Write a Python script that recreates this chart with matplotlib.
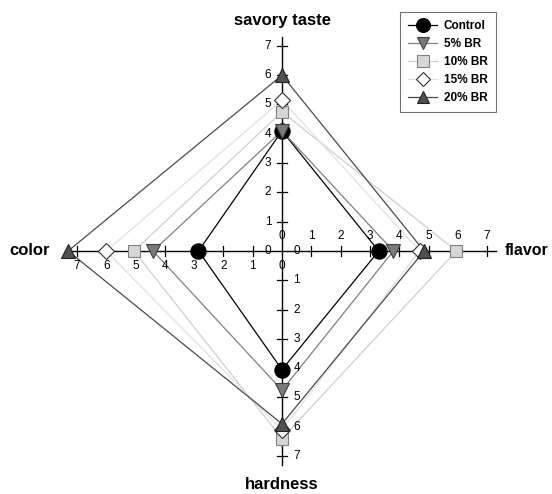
import matplotlib
matplotlib.use("Agg")
import matplotlib.pyplot as plt
import numpy as np

plt.rcParams['font.family'] = ['Liberation Sans', 'DejaVu Sans']

attributes = ["savory taste", "flavor", "hardness", "color"]
series_names = ["Control", "5% BR", "10% BR", "15% BR", "20% BR"]
# values per series in order: savory taste, flavor, hardness, color
control = [4.1, 3.3, 4.05, 2.85]
br5 = [4.1, 3.8, 4.75, 4.4]
br10 = [4.75, 5.95, 6.4, 5.05]
br15 = [5.15, 4.7, 6.1, 6.0]
br20 = [6.0, 4.85, 5.9, 7.3]
tick_values = [1, 2, 3, 4, 5, 6, 7]

W, H = 552, 494
fig = plt.figure(figsize=(W / 100, H / 100), dpi=100)
ax = fig.add_axes([0, 0, 1, 1])
cx, cy, s = 282, 251, 29.3
ax.set_xlim(-cx / s, (W - cx) / s)
ax.set_ylim(-(H - cy) / s, cy / s)
ax.axis('off')

# direction vectors: up, right, down, left
dirs = [(0, 1), (1, 0), (0, -1), (-1, 0)]

styles = [
    dict(line='#000000', marker='o', mfc='#000000', mec='#000000', ms=11),
    dict(line='#808080', marker='v', mfc='#7a7a7a', mec='#404040', ms=10),
    dict(line='#cfcfcf', marker='s', mfc='#d6d6d6', mec='#808080', ms=9),
    dict(line='#e0e0e0', marker='D', mfc='#ffffff', mec='#303030', ms=8),
    dict(line='#4a4a4a', marker='^', mfc='#505050', mec='#202020', ms=10),
]
data = [control, br5, br10, br15, br20]

# axes cross
L = 7.3
ax.plot([-L, L], [0, 0], color='black', lw=1.0, zorder=2)
ax.plot([0, 0], [-L, L], color='black', lw=1.0, zorder=2)
tl = 0.17
for t in tick_values:
    for dx, dy in dirs:
        px, py = dx * t, dy * t
        if dx == 0:
            ax.plot([px - tl, px + tl], [py, py], color='black', lw=0.9, zorder=2)
        else:
            ax.plot([px, px], [py - tl, py + tl], color='black', lw=0.9, zorder=2)

# tick labels
fs = 8.5
for t in [0] + tick_values:
    ax.text(-0.48, t, str(t), ha='center', va='center', fontsize=fs, zorder=3)
    ax.text(t, 0.5, str(t), ha='center', va='center', fontsize=fs, zorder=3)
    ax.text(0.5, -t, str(t), ha='center', va='center', fontsize=fs, zorder=3)
    ax.text(-t, -0.52, str(t), ha='center', va='center', fontsize=fs, zorder=3)

# series
for name, vals, st in zip(series_names, data, styles):
    xs = [dx * v for (dx, dy), v in zip(dirs, vals)]
    ys = [dy * v for (dx, dy), v in zip(dirs, vals)]
    ax.plot(xs + [xs[0]], ys + [ys[0]], color=st['line'], lw=0.9, zorder=1)
    ax.plot(xs, ys, ls='none', marker=st['marker'], ms=st['ms'],
            mfc=st['mfc'], mec=st['mec'], mew=0.8, zorder=4)

# legend handles
handles = []
for name, st in zip(series_names, styles):
    h, = ax.plot([], [], color=st['line'], lw=0.9, marker=st['marker'], ms=st['ms'] - 1,
                 mfc=st['mfc'], mec=st['mec'], mew=0.8, label=name)
    handles.append(h)
leg = ax.legend(handles=handles, loc='upper right',
                bbox_to_anchor=(496 / W, 1 - 12 / H), borderaxespad=0,
                fancybox=False, edgecolor='#707070', framealpha=1,
                prop=dict(weight='bold', size=8.5), handlelength=2.4,
                labelspacing=0.5, borderpad=0.7, handletextpad=0.6)
leg.get_frame().set_linewidth(0.8)

# axis titles
tfs = 12
ax.text(0, 7.88, attributes[0], ha='center', va='center', fontsize=tfs, fontweight='bold')
ax.text(7.6, 0, attributes[1], ha='left', va='center', fontsize=11.5, fontweight='bold')
ax.text(0, -7.98, attributes[2], ha='center', va='center', fontsize=tfs, fontweight='bold')
ax.text(-8.6, 0, attributes[3], ha='center', va='center', fontsize=tfs, fontweight='bold')

fig.savefig('out.png', dpi=100)
